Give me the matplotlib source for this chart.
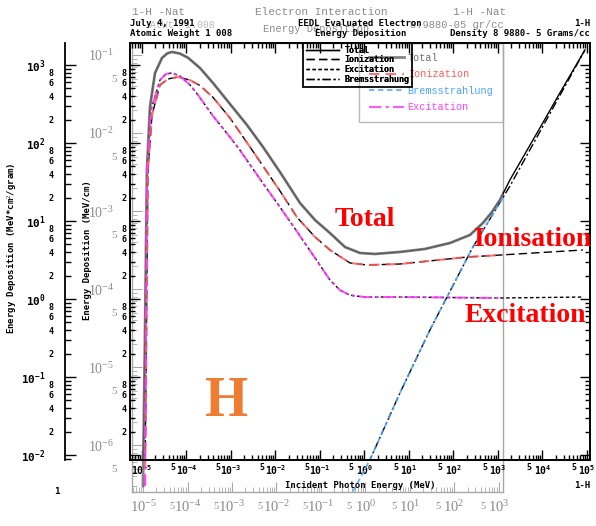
import numpy as np
import matplotlib
matplotlib.use('Agg')
import matplotlib.pyplot as plt
from matplotlib.ticker import FixedLocator, FuncFormatter, NullFormatter

plt.rcParams['mathtext.fontset'] = 'custom'
plt.rcParams['mathtext.rm'] = 'Liberation Serif'
plt.rcParams['mathtext.it'] = 'Liberation Serif:italic'
plt.rcParams['mathtext.bf'] = 'DejaVu Sans Mono:bold'

# ---------------- data ----------------
total_E = [1.05e-5, 1.17e-5, 1.29e-5, 1.51e-5, 1.96e-5, 2.81e-5, 3.7e-5, 4.72e-5, 7.14e-5,
           1.08e-4, 2.01e-4, 3.94e-4, 9.5e-4, 2.29e-3, 5.24e-3, 1.26e-2, 3.56e-2,
           7.73e-2, 0.168, 0.365, 0.792, 1.72, 6.28, 22.9, 83.4, 235, 460, 733,
           1110, 1860, 8790, 24700, 90200]
total_y = [0.004, 0.40, 45, 290, 790, 1230, 1410, 1470, 1400,
           1240, 915, 588, 316, 170, 89, 42.5, 17.0,
           10.3, 7.0, 4.64, 3.89, 3.78, 4.01, 4.38, 5.22, 6.62, 9.42, 13.0,
           18.6, 33.6, 156, 438, 1560]

ion_E = [1.17e-5, 1.36e-5, 1.68e-5, 2.54e-5, 3.84e-5, 6.44e-5, 1.20e-4, 2.01e-4,
         3.94e-4, 9.5e-4, 2.67e-3, 5.24e-3, 1.26e-2, 3.04e-2, 7.73e-2, 0.168,
         0.472, 1.14, 6.28, 201, 1110, 81300]
ion_y = [0.004, 45, 229, 555, 662, 702, 640, 545,
         385, 209, 89, 50.7, 24.3, 11.2, 6.24, 4.25,
         2.90, 2.73, 2.81, 3.45, 3.66, 4.25]

exc_E = [1.17e-5, 1.29e-5, 1.59e-5, 2.54e-5, 3.46e-5, 4.72e-5, 7.14e-5, 1.20e-4,
         1.72e-4, 3.94e-4, 9.5e-4, 1.59e-3, 4.49e-3, 1.26e-2, 3.56e-2, 7.73e-2,
         0.168, 0.281, 0.472, 0.975, 6.28, 1110, 81300]
exc_y = [0.004, 45, 265, 642, 767, 790, 722, 555,
         430, 222, 119, 81, 34.5, 15.1, 6.43, 3.36,
         1.75, 1.30, 1.12, 1.06, 1.06, 1.03, 1.06]

brem_E = [0.55, 1.33, 6.28, 29.6, 274, 1860, 90200]
brem_y = [0.0034, 0.0087, 0.0624, 0.40, 4.64, 28, 1550]

eedl_labels = ['Total', 'Ionization', 'Excitation', 'Bremsstrahung']
g4_labels = ['Total', 'Ionization', 'Bremsstrahlung', 'Excitation']

x_decades = list(range(-5, 6))
y_decades = list(range(-2, 4))
g_x_decades = list(range(-5, 4))
g_y_decades = list(range(-6, 0))

# ---------------- layout helpers ----------------
W, H = 596, 526
fig = plt.figure(figsize=(W / 100, H / 100), dpi=100)
fig.patch.set_facecolor('white')


def rect(l, t, r, b):
    return [l / W, 1 - b / H, (r - l) / W, (b - t) / H]


def fx(px):
    return px / W


def fy(py):
    return 1 - py / H


GRAY = '#8c8c8c'
LGRAY = '#a8a8a8'
MONO = 'DejaVu Sans Mono'
GFONT = 'Liberation Mono'


def minor_locs(decs):
    return [k * 10.0 ** d for d in decs for k in range(2, 10)]


def five_label(v, p):
    return '5' if abs(v / 10 ** np.floor(np.log10(v)) - 5) < 1e-6 else ''


def even_label(v, p):
    m = int(round(v / 10 ** np.floor(np.log10(v))))
    return str(m) if m in (2, 4, 6, 8) else ''


# ---------------- overlay (gray) axes ----------------
axg = fig.add_axes(rect(132, 43, 503, 492), zorder=1)
axg.set_xscale('log')
axg.set_yscale('log')
axg.set_xlim(10 ** -5.25, 10 ** 3.10)
axg.set_ylim(10 ** -6.60, 10 ** -0.846)
axg.patch.set_visible(False)
for s in axg.spines.values():
    s.set_color(LGRAY)
    s.set_linewidth(1.0)
axg.xaxis.set_major_locator(FixedLocator([10.0 ** d for d in g_x_decades]))
axg.xaxis.set_minor_locator(FixedLocator(minor_locs(range(-6, 4))))
axg.xaxis.set_major_formatter(FuncFormatter(lambda v, p: r'$\mathrm{10^{%d}}$' % round(np.log10(v))))
axg.xaxis.set_minor_formatter(FuncFormatter(five_label))
axg.yaxis.set_major_locator(FixedLocator([10.0 ** d for d in g_y_decades]))
axg.yaxis.set_minor_locator(FixedLocator(minor_locs(range(-7, 0))))
axg.yaxis.set_major_formatter(FuncFormatter(lambda v, p: r'$\mathrm{10^{%d}}$' % round(np.log10(v))))
axg.yaxis.set_minor_formatter(FuncFormatter(five_label))
axg.tick_params(axis='both', which='both', direction='in', colors=LGRAY,
                labelcolor=GRAY, top=False, right=False)
axg.tick_params(axis='x', which='major', length=7, labelsize=10.5, pad=5)
axg.tick_params(axis='x', which='minor', length=3.5, labelsize=7.5, pad=7)
axg.tick_params(axis='y', which='major', length=7, labelsize=10, pad=13)
axg.tick_params(axis='y', which='minor', length=3.5, labelsize=8, pad=11)
for lab in axg.get_xticklabels(which='minor') + axg.get_yticklabels(which='minor'):
    lab.set_fontfamily('Liberation Serif')
for lab in axg.get_xticklabels(which='minor'):
    lab.set_horizontalalignment('right')

# ---------------- main (EEDL) axes ----------------
ax = fig.add_axes(rect(130, 43, 590, 460), zorder=2)
ax.patch.set_visible(False)
ax.set_xscale('log')
ax.set_yscale('log')
ax.set_xlim(10 ** -5.27, 10 ** 5.07)
ax.set_ylim(10 ** -2.064, 10 ** 3.282)
for s in ax.spines.values():
    s.set_linewidth(1.4)
    s.set_color('black')

ax.xaxis.set_major_locator(FixedLocator([10.0 ** d for d in x_decades]))
ax.xaxis.set_minor_locator(FixedLocator(minor_locs(range(-6, 6))))
ax.xaxis.set_major_formatter(FuncFormatter(lambda v, p: r'$\mathbf{10^{%d}}$' % round(np.log10(v))))
ax.xaxis.set_minor_formatter(FuncFormatter(five_label))
ax.yaxis.set_major_locator(FixedLocator([10.0 ** d for d in y_decades]))
ax.yaxis.set_minor_locator(FixedLocator(minor_locs(range(-3, 4))))
ax.yaxis.set_major_formatter(NullFormatter())
ax.yaxis.set_minor_formatter(FuncFormatter(even_label))
ax.tick_params(axis='both', which='both', direction='in', top=True, right=True,
               width=1.0, colors='black')
ax.tick_params(axis='both', which='major', length=7, labelsize=7, pad=2)
ax.tick_params(axis='both', which='minor', length=3.5, labelsize=6, pad=2.5)
for lab in ax.get_xticklabels(which='minor') + ax.get_yticklabels(which='minor'):
    lab.set_fontfamily(MONO)
    lab.set_fontweight('bold')

# EEDL curves (black)
l_tot, = ax.plot(total_E, total_y, color='black', lw=1.0, ls='-', label=eedl_labels[0])
l_ion, = ax.plot(ion_E, ion_y, color='black', lw=1.0, ls=(0, (6, 3)), label=eedl_labels[1])
l_exc, = ax.plot(exc_E, exc_y, color='black', lw=1.0, ls=(0, (2.5, 1.8)), label=eedl_labels[2])
l_brm, = ax.plot(brem_E, brem_y, color='black', lw=1.0, ls=(0, (6, 2, 1.5, 2)), label=eedl_labels[3])

# Geant4 curves (coloured), clipped to the overlay frame
g_tot, = ax.plot(total_E, total_y, color='#6f6f6f', lw=2.0, alpha=0.85, ls='-', label=g4_labels[0])
g_ion, = ax.plot(ion_E, ion_y, color='#ff5a5a', lw=1.5, alpha=0.85, ls=(0, (5, 3)), label=g4_labels[1])
g_brm, = ax.plot(brem_E, brem_y, color='#4aa3ff', lw=1.3, alpha=0.85, ls=(0, (3, 2)), label=g4_labels[2])
g_exc, = ax.plot(exc_E, exc_y, color='#ff3dff', lw=1.5, alpha=0.85, ls=(0, (6, 2, 1.5, 2)), label=g4_labels[3])
for ln in (g_tot, g_ion, g_brm, g_exc):
    ln.set_clip_path(axg.patch)

# EEDL legend
leg1 = ax.legend(handles=[l_tot, l_ion, l_exc, l_brm], loc='upper left',
                 bbox_to_anchor=((303 - 130) / 460, 1.0), borderaxespad=0,
                 prop={'family': MONO, 'weight': 'bold', 'size': 6},
                 handlelength=4.0, handletextpad=0.7, labelspacing=0.1,
                 borderpad=0.3, fancybox=False, facecolor='none',
                 edgecolor='black')
leg1.get_frame().set_linewidth(1.2)
ax.add_artist(leg1)

# Geant4 legend
leg2 = axg.legend(handles=[g_tot, g_ion, g_brm, g_exc], loc='upper right',
                  borderaxespad=0, prop={'family': GFONT, 'size': 7.3},
                  handlelength=3.4, handletextpad=0.4, labelspacing=0.65,
                  borderpad=0.95, fancybox=False, facecolor='none',
                  edgecolor=LGRAY, labelcolor='linecolor')
leg2.get_frame().set_linewidth(1.0)

# ---------------- outer left axis (MeV*cm2/gram) ----------------
axo = fig.add_axes(rect(65, 43, 75, 460), zorder=2)
axo.patch.set_visible(False)
axo.set_yscale('log')
axo.set_ylim(ax.get_ylim())
for k in ('top', 'right', 'bottom'):
    axo.spines[k].set_visible(False)
axo.spines['left'].set_linewidth(1.3)
axo.set_xticks([])
axo.yaxis.set_major_locator(FixedLocator([10.0 ** d for d in y_decades]))
axo.yaxis.set_minor_locator(FixedLocator(minor_locs(range(-3, 4))))
axo.yaxis.set_major_formatter(FuncFormatter(lambda v, p: r'$\mathbf{10^{%d}}$' % round(np.log10(v))))
axo.yaxis.set_minor_formatter(FuncFormatter(even_label))
axo.tick_params(axis='y', which='both', direction='in', width=1.0)
axo.tick_params(axis='y', which='major', length=8, labelsize=8, pad=14)
axo.tick_params(axis='y', which='minor', length=4, labelsize=6, pad=8)
for lab in axo.get_yticklabels(which='minor'):
    lab.set_fontfamily(MONO)
    lab.set_fontweight('bold')

# ---------------- texts ----------------
bold = dict(family=MONO, weight='bold', color='black')
gtxt = dict(family=GFONT, color=GRAY)

fig.text(fx(132), fy(12), '1-H -Nat', size=8, va='center', ha='left', **gtxt)
fig.text(fx(255), fy(12), 'Electron Interaction', size=8, va='center', ha='left', **gtxt)
fig.text(fx(453), fy(12), '1-H -Nat', size=8, va='center', ha='left', **gtxt)
fig.text(fx(263), fy(29), 'Energy Deposition', size=7.5, va='center', ha='left', **gtxt)
fig.text(fx(410), fy(25), '8.9880-05 gr/cc', size=7.5, va='center', ha='left', **gtxt)
fig.text(fx(150), fy(25), 'AtWt  1.008', size=7, va='center', ha='left', alpha=0.6, **gtxt)

fig.text(fx(130), fy(24), 'July 4, 1991', size=6.5, va='center', ha='left', **bold)
fig.text(fx(130), fy(34), 'Atomic Weight 1 008', size=6.5, va='center', ha='left', **bold)
fig.text(fx(298), fy(24), 'EEDL Evaluated Electron', size=6.5, va='center', ha='left', **bold)
fig.text(fx(315), fy(34), 'Energy Deposition', size=6.5, va='center', ha='left', **bold)
fig.text(fx(450), fy(34), 'Density 8 9880- 5 Grams/cc', size=6.5, va='center', ha='left', **bold)
fig.text(fx(590), fy(24), '1-H', size=6.5, va='center', ha='right', **bold)
fig.text(fx(285), fy(485), 'Incident Photon Energy (MeV)', size=6.5, va='center', ha='left', **bold)
fig.text(fx(590), fy(485), '1-H', size=6.5, va='center', ha='right', **bold)
fig.text(fx(57), fy(492), '1', size=6.5, va='center', ha='center', **bold)

fig.text(fx(12), fy(248), 'Energy Deposition (MeV*cm$^2$/gram)', size=6.5, rotation=90,
         va='center', ha='center', **bold)
fig.text(fx(88), fy(250), 'Energy Deposition (MeV/cm)', size=6.5, rotation=90,
         va='center', ha='center', **bold)

big = dict(family='Liberation Serif', weight='bold', va='center', ha='center')
fig.text(fx(365), fy(220), 'Total', size=20, color='#ff0000', **big)
fig.text(fx(532), fy(240), 'Ionisation', size=20, color='#ff0000', **big)
fig.text(fx(525), fy(316), 'Excitation', size=20, color='#ff0000', **big)
fig.text(fx(227), fy(402), 'H', size=40, color='#ee7d31', **big)

fig.savefig('out.png', dpi=100, facecolor='white')
